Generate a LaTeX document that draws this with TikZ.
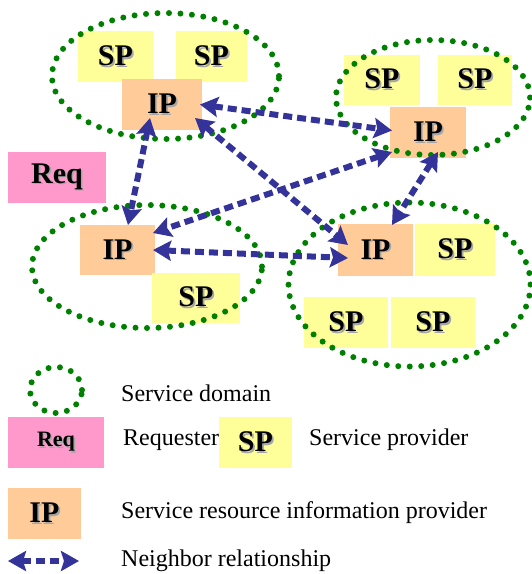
\documentclass[tikz,border=0pt]{standalone}
\usepackage{fontspec}
\setmainfont{Liberation Serif}
\usetikzlibrary{arrows.meta,calc}
\definecolor{spy}{HTML}{FFFF99}
\definecolor{ipo}{HTML}{FFCC99}
\definecolor{rqp}{HTML}{FF99CC}
\definecolor{nav}{HTML}{333399}
\definecolor{dgr}{HTML}{008000}
\newcommand{\shd}[1]{\makebox[0pt][l]{\hspace{1.6pt}\raisebox{-1.6pt}{\textcolor{black!35}{#1}}}#1}
\tikzset{
  sbox/.style={inner sep=0pt, outer sep=0pt, font=\fontsize{30}{31}\selectfont\bfseries},
  spbox/.style={sbox, fill=spy},
  ipbox/.style={sbox, fill=ipo},
  rqbox/.style={sbox, fill=rqp},
  sdomain/.style={draw=dgr, line width=6pt, line cap=round, dash pattern=on 0pt off 11.5pt},
  nbr/.style={draw=nav, line width=6pt, dash pattern=on 9pt off 5pt,
    {Stealth[length=18pt,width=20pt,inset=3pt]}-{Stealth[length=18pt,width=20pt,inset=3pt]}},
  legtext/.style={anchor=west, font=\fontsize{24}{26}\selectfont, inner sep=0pt}
}
\begin{document}
\begin{tikzpicture}[x=1pt,y=-1pt]
\useasboundingbox (0,0) rectangle (532,574);
% top-left domain
\node[spbox, minimum width=75pt, minimum height=51pt] (tlspa) at (115.5,56.5) {\shd{SP}};
\node[spbox, minimum width=71pt, minimum height=51pt] (tlspb) at (211.5,56.5) {\shd{SP}};
\node[ipbox, minimum width=80pt, minimum height=51pt] (tlip) at (162,104.5) {\shd{IP}};
% top-right domain
\node[spbox, minimum width=76pt, minimum height=50pt] (trspa) at (382,80) {\shd{SP}};
\node[spbox, minimum width=74pt, minimum height=50pt] (trspb) at (475,80) {\shd{SP}};
\node[ipbox, minimum width=76pt, minimum height=51pt] (trip) at (428,132.5) {\shd{IP}};
% requester
\node[rqbox, minimum width=98pt, minimum height=51pt] (req) at (57,177.5) {\shd{Req}};
% bottom-left domain
\node[ipbox, minimum width=75pt, minimum height=50pt] (blip) at (117.5,250) {\shd{IP}};
\node[spbox, minimum width=88pt, minimum height=50pt] (blsp) at (196,298) {\shd{SP}};
% bottom-right domain
\node[ipbox, minimum width=75pt, minimum height=52pt] (brip) at (375.5,250) {\shd{IP}};
\node[spbox, minimum width=80pt, minimum height=52pt] (brspa) at (455,250) {\shd{SP}};
\node[spbox, minimum width=84pt, minimum height=51pt] (brspb) at (346,322.5) {\shd{SP}};
\node[spbox, minimum width=84pt, minimum height=51pt] (brspc) at (433,322.5) {\shd{SP}};
% domains
\draw[sdomain] (165.5,76) ellipse [x radius=113.5pt, y radius=63pt];
\draw[sdomain] (433,97.5) ellipse [x radius=97pt, y radius=57.5pt];
\draw[sdomain] (147,266.5) ellipse [x radius=115pt, y radius=61.5pt];
\draw[sdomain] (409.5,284.5) ellipse [x radius=121pt, y radius=82pt];
% neighbor relationships
\draw[nbr] ([xshift=-2pt]tlip.east) -- ([xshift=2pt,yshift=2pt]trip.west);
\draw[nbr] ([xshift=-12pt,yshift=12pt]tlip.south) -- ([xshift=10.5pt]blip.north);
\draw[nbr] ([xshift=-7pt,yshift=12pt]tlip.south east) -- ([xshift=10pt,yshift=5pt]brip.west);
\draw[nbr] ([xshift=2pt,yshift=6pt]trip.south west) -- ([xshift=-2pt,yshift=-8pt]blip.north east);
\draw[nbr] ([xshift=10pt,yshift=6pt]trip.south) -- ([xshift=16.5pt,yshift=-1pt]brip.north);
\draw[nbr] ([xshift=-2pt]blip.east) -- ([xshift=10pt,yshift=-8pt]brip.west);
% legend
\draw[sdomain] (56,390) ellipse [x radius=26pt, y radius=23pt];
\node[legtext] (ldom) at (121,393) {Service domain};
\node[rqbox, minimum width=96pt, minimum height=51pt, font=\fontsize{22}{24}\selectfont\bfseries] (lreq) at (56,442.5) {\shd{Req}};
\node[legtext] (lreqt) at (123,440) {Requester};
\node[spbox, minimum width=73pt, minimum height=51pt] (lsp) at (255.5,442.5) {\shd{SP}};
\node[legtext] (lspt) at (309,440) {Service provider};
\node[ipbox, minimum width=73pt, minimum height=51pt] (lip) at (44.5,513.5) {\shd{IP}};
\node[legtext] (lipt) at (121,513) {Service resource information provider};
\coordinate (la) at (8,561);
\coordinate (lb) at (79,561);
\draw[nbr] (la) -- (lb);
\node[legtext] (lnbt) at (121,561) {Neighbor relationship};
\end{tikzpicture}
\end{document}
